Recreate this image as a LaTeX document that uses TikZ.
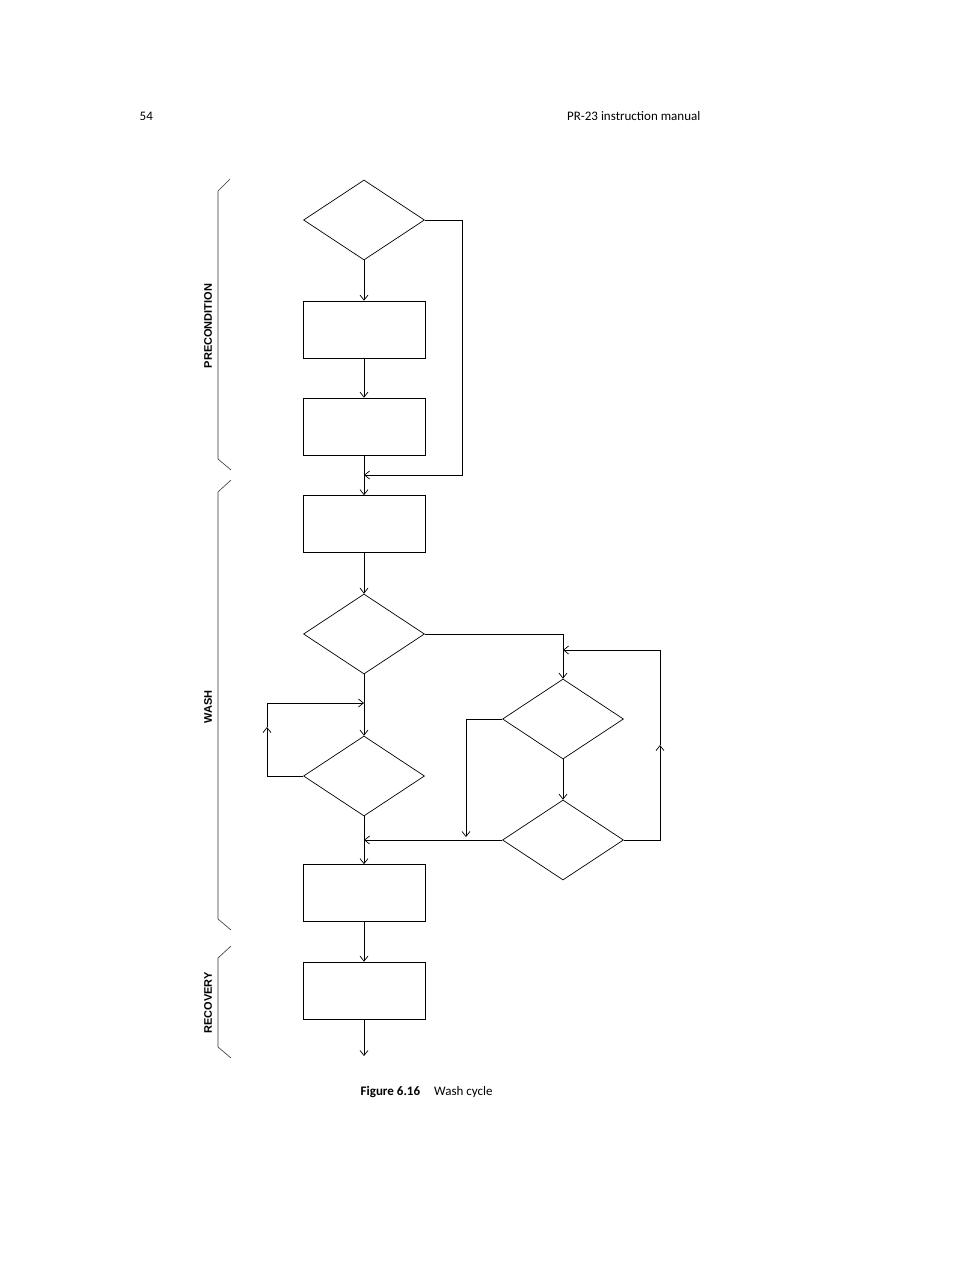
\documentclass[tikz,border=0pt]{standalone}
\usepackage{fontspec}
\setmainfont{Carlito}
\newfontfamily\labelfont{Liberation Sans}
\usetikzlibrary{arrows.meta,shapes.geometric}

\tikzset{
  decision/.style={diamond,draw,minimum width=121pt,minimum height=80pt,inner sep=0pt,aspect=1.5},
  process/.style={rectangle,draw,minimum width=122pt,minimum height=57pt,inner sep=0pt},
  phase/.style={draw,line width=0.6pt,black!80},
  phaselabel/.style={rotate=90,font=\labelfont\bfseries\fontsize{11}{13}\selectfont}
}

\begin{document}
\begin{tikzpicture}[x=1pt,y=-1pt,>={Straight Barb[length=5pt,width=8pt]},line width=0.7pt]
  \useasboundingbox (0,0) rectangle (954,1270);

  % header and caption
  \node[anchor=west,font=\fontsize{13}{15}\selectfont] (page) at (136,116) {54};
  \node[anchor=east,font=\fontsize{13}{15}\selectfont] (title) at (704,116) {PR-23 instruction manual};
  \node[anchor=west,font=\fontsize{13}{15}\selectfont] (caption) at (357,1092) {\textbf{Figure 6.16}\hspace{14pt}Wash cycle};

  % main column
  \node[decision] (d1) at (364,220) {};
  \node[process] (b1) at (364,329.5) {};
  \node[process] (b2) at (364,426.5) {};
  \node[process] (b3) at (364,524) {};
  \node[decision] (d2) at (364,634) {};
  \node[decision] (d3) at (364,776) {};
  \node[process] (b4) at (364,893) {};
  \node[process] (b5) at (364,990.5) {};
  \coordinate (end) at (364,1056);

  % right column
  \node[decision] (d4) at (563,719) {};
  \node[decision] (d5) at (563,840) {};

  \coordinate (join1) at (364,475);
  \coordinate (join2) at (364,703);
  \coordinate (join3) at (364,840);
  \coordinate (join4) at (563,650);
  \coordinate (up1) at (267,727);
  \coordinate (up2) at (660,745);

  \draw[->] (d1) -- (b1);
  \draw[->] (b1) -- (b2);
  \draw[->] (b2) -- (b3);
  \draw[->] (d1.east) -- (462,220) -- (462,475) -- (join1);
  \draw[->] (b3) -- (d2);
  \draw[->] (d2) -- (d3);
  \draw[->] (d3) -- (b4);
  \draw[->] (b4) -- (b5);
  \draw[->] (b5) -- (end);

  % loops
  \draw[->] (d3.west) -- (267,776) -- (up1);
  \draw[->] (up1) -- (267,703) -- (join2);
  \draw[->] (d2.east) -- (563,634) -- (d4.north);
  \draw[->] (d4) -- (d5);
  \draw[->] (d4.west) -- (466,719) -- (466,837);
  \draw[->] (d5.west) -- (join3);
  \draw[->] (d5.east) -- (660,840) -- (up2);
  \draw[->] (up2) -- (660,650) -- (join4);

  % phases
  \draw[phase] (230,179) -- (218,191) -- (218,459) -- (231,470);
  \draw[phase] (231,480) -- (218,492) -- (218,919) -- (231,930);
  \draw[phase] (231,946) -- (218,958) -- (218,1047) -- (231,1058);
  \node[phaselabel] (pre) at (208,326) {PRECONDITION};
  \node[phaselabel] (wash) at (208,707) {WASH};
  \node[phaselabel] (rec) at (208,1003) {RECOVERY};
\end{tikzpicture}
\end{document}
